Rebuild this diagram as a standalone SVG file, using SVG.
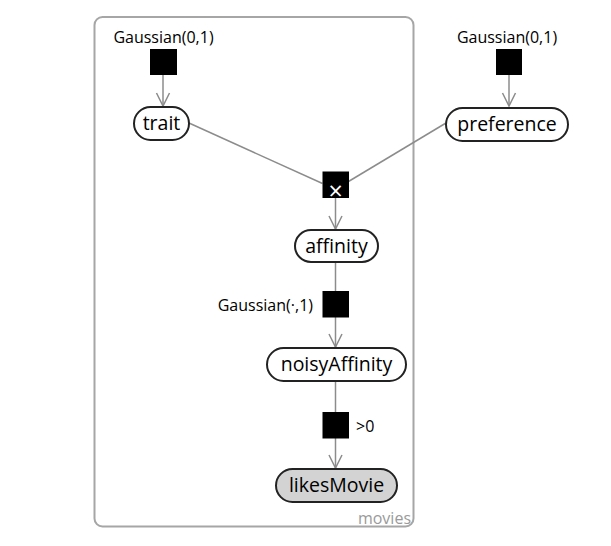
<svg xmlns="http://www.w3.org/2000/svg" width="611" height="546" viewBox="0 0 611 546">
<style>
.plate{fill:none;stroke:#a6a6a6;stroke-width:2}
.node rect{fill:#fff;stroke:#222;stroke-width:2}
.obs rect{fill:#d3d3d3}
.ntext{font-family:"Open Sans","Noto Sans",sans-serif;font-size:19.5px;fill:#000;text-anchor:middle}
.lbl{font-family:"Open Sans","Noto Sans",sans-serif;font-size:16px;fill:#000}
.factor{fill:#000}
.edge{stroke:#8c8c8c;stroke-width:1.5;fill:none}
</style>
<defs>
<marker id="arr" markerUnits="userSpaceOnUse" markerWidth="30" markerHeight="30" refX="0" refY="0" orient="auto" overflow="visible">
<path d="M-13,-6.5 L0,0 L-13,6.5" fill="none" stroke="#8c8c8c" stroke-width="1.5"/>
</marker>
</defs>
<g id="plate-movies">
<rect class="plate" x="94.5" y="17" width="319" height="509.5" rx="8"/>
<text x="411" y="524" class="lbl" style="fill:#9a9a9a;text-anchor:end">movies</text>
</g>
<g id="connectors">
<line class="edge" x1="163" y1="75" x2="163" y2="106" marker-end="url(#arr)"/>
<line class="edge" x1="509" y1="75" x2="509" y2="106" marker-end="url(#arr)"/>
<line class="edge" x1="189" y1="123" x2="322.5" y2="183.5"/>
<line class="edge" x1="446" y1="123" x2="348.5" y2="181.5"/>
<line class="edge" x1="335.5" y1="198" x2="335.5" y2="229" marker-end="url(#arr)"/>
<line class="edge" x1="335.5" y1="262" x2="335.5" y2="291"/>
<line class="edge" x1="335.5" y1="317" x2="335.5" y2="347" marker-end="url(#arr)"/>
<line class="edge" x1="335.5" y1="381" x2="335.5" y2="412"/>
<line class="edge" x1="335.5" y1="438" x2="335.5" y2="468" marker-end="url(#arr)"/>
</g>
<g id="factor-trait-prior">
<rect class="factor" x="150" y="49" width="27" height="26"/>
<text class="lbl" x="163.5" y="43" text-anchor="middle">Gaussian(0,1)</text>
</g>
<g id="factor-preference-prior">
<rect class="factor" x="496" y="49" width="26" height="26"/>
<text class="lbl" x="507" y="43" text-anchor="middle">Gaussian(0,1)</text>
</g>
<g id="factor-product">
<rect class="factor" x="322.5" y="171.5" width="26.5" height="26.5"/>
<text x="335.7" y="199.5" font-family="Open Sans, Noto Sans, sans-serif" font-size="25" fill="#fff" text-anchor="middle">×</text>
</g>
<g id="factor-noise">
<rect class="factor" x="322.5" y="291" width="26.5" height="26.5"/>
<text class="lbl" x="313" y="311" text-anchor="end">Gaussian(·,1)</text>
</g>
<g id="factor-positive">
<rect class="factor" x="322.5" y="412" width="26.5" height="26.5"/>
<text class="lbl" x="356" y="432">&gt;0</text>
</g>
<g id="node-trait" class="node">
<rect x="134" y="107" width="55" height="33" rx="16.5"/>
<text class="ntext" x="161.5" y="130">trait</text>
</g>
<g id="node-preference" class="node">
<rect x="446" y="108" width="122" height="33" rx="16.5"/>
<text class="ntext" x="507" y="131">preference</text>
</g>
<g id="node-affinity" class="node">
<rect x="295" y="230" width="83" height="32" rx="16"/>
<text class="ntext" x="336.5" y="252.5">affinity</text>
</g>
<g id="node-noisyAffinity" class="node">
<rect x="267" y="348" width="139" height="33" rx="16.5"/>
<text class="ntext" x="336.5" y="371">noisyAffinity</text>
</g>
<g id="node-likesMovie" class="node obs">
<rect x="276" y="469" width="121" height="33" rx="16.5"/>
<text class="ntext" x="336.5" y="492">likesMovie</text>
</g>
</svg>
